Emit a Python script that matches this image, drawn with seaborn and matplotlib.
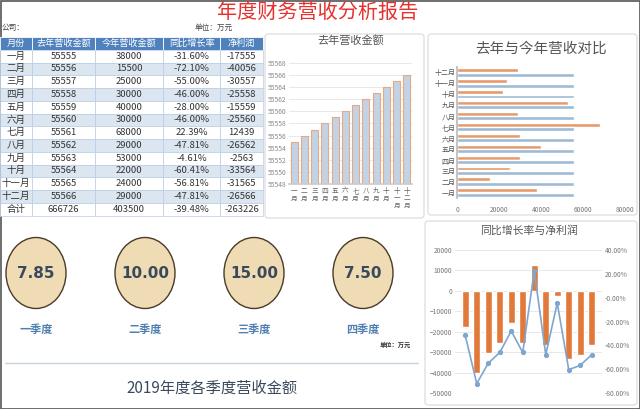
import numpy as np
import pandas as pd
import matplotlib
matplotlib.use("Agg")
import matplotlib.pyplot as plt
from matplotlib.patches import Ellipse, Rectangle, FancyBboxPatch
from matplotlib.ticker import FuncFormatter
import seaborn as sns

sns.set_theme(style="white")
plt.rcParams['font.family'] = ['Noto Sans CJK SC', 'DejaVu Sans']

# 数据
months = ['一月', '二月', '三月', '四月', '五月', '六月',
          '七月', '八月', '九月', '十月', '十一月', '十二月']
last_year = [55555, 55556, 55557, 55558, 55559, 55560,
             55561, 55562, 55563, 55564, 55565, 55566]
this_year = [38000, 15500, 25000, 30000, 40000, 30000,
             68000, 29000, 53000, 22000, 24000, 29000]
growth_txt = ['-31.60%', '-72.10%', '-55.00%', '-46.00%', '-28.00%', '-46.00%',
              '22.39%', '-47.81%', '-4.61%', '-60.41%', '-56.81%', '-47.81%']
profit = [-17555, -40056, -30557, -25558, -15559, -25560,
          12439, -26562, -2563, -33564, -31565, -26566]
total_row = ['合计', '666726', '403500', '-39.48%', '-263226']
quarters = ['一季度', '二季度', '三季度', '四季度']
quarter_values = [7.85, 10.00, 15.00, 7.50]

growth = [float(g.rstrip('%')) / 100 for g in growth_txt]

W, H = 640, 409
fig = plt.figure(figsize=(W / 100, H / 100), dpi=100)
fig.patch.set_facecolor('white')


def px_axes(x0, y0, x1, y1):
    return fig.add_axes([x0 / W, 1 - y1 / H, (x1 - x0) / W, (y1 - y0) / H])


# 背景画布（像素坐标）
bg = fig.add_axes([0, 0, 1, 1])
bg.set_xlim(0, W)
bg.set_ylim(H, 0)
bg.axis('off')
bg.add_patch(Rectangle((0.5, 0.5), W - 1, H - 1, fill=False, ec='#555555', lw=1.2))

bg.text(318, 12, '年度财务营收分析报告', color='#e8302c', fontsize=14.5,
        ha='center', va='center')
bg.text(2, 28, '公司：', fontsize=5.5, color='#444444', va='center')
bg.text(195, 28, '单位：万元', fontsize=5.5, color='#444444', va='center')

# 表格
col_x = [0, 32, 95, 163, 220, 263]
headers = ['月份', '去年营收金额', '今年营收金额', '同比增长率', '净利润']
row_h = 12.75
top = 37
for c in range(5):
    bg.add_patch(Rectangle((col_x[c], top), col_x[c + 1] - col_x[c], row_h,
                           fc='#4f81bd', ec='white', lw=0.6))
    bg.text((col_x[c] + col_x[c + 1]) / 2, top + row_h / 2, headers[c],
            color='white', fontsize=6.6, ha='center', va='center')
rows = [[months[i], str(last_year[i]), str(this_year[i]), growth_txt[i], str(profit[i])]
        for i in range(12)] + [total_row]
for r, row in enumerate(rows):
    y = top + row_h * (r + 1)
    fc = '#dce6f1' if r % 2 == 1 else 'white'
    for c in range(5):
        bg.add_patch(Rectangle((col_x[c], y), col_x[c + 1] - col_x[c], row_h,
                               fc=fc, ec='#b8cce4', lw=0.5))
        bg.text((col_x[c] + col_x[c + 1]) / 2, y + row_h / 2, row[c],
                color='#333333', fontsize=6.8, ha='center', va='center')

# 面板边框
for (x0, y0, x1, y1) in [(265, 34, 424, 218), (428, 34, 637, 215), (425, 221, 637, 405)]:
    bg.add_patch(FancyBboxPatch((x0, y0), x1 - x0, y1 - y0,
                                boxstyle='round,pad=0,rounding_size=3',
                                fill=False, ec='#d9d9d9', lw=0.8))

# 季度圆圈
q_x = [36, 145, 254, 363]
for x, q, v in zip(q_x, quarters, quarter_values):
    bg.add_patch(Ellipse((x, 273), 60, 71, fc='#efdcb4', ec='#4a3a28', lw=1.0))
    bg.text(x, 274, f'{v:.2f}', fontsize=11, fontweight='bold', color='#3a4a5c',
            ha='center', va='center', family='DejaVu Sans')
    bg.text(x, 330, q, fontsize=8, color='#4f7fb0', ha='center', va='center',
            fontweight='bold')
bg.text(395, 345, '单位：万元', fontsize=4.5, color='#333333', ha='center',
        va='center', fontweight='bold')
bg.plot([5, 418], [363, 363], color='#c8d3e0', lw=1)
bg.text(212, 388, '2019年度各季度营收金额', fontsize=11, color='#3a4a5c',
        ha='center', va='center')

# 图1：去年营收金额
ax1 = px_axes(289, 63, 412, 184)
df1 = pd.DataFrame({'月份': months, '金额': last_year})
sns.barplot(data=df1, x='月份', y='金额', color='#c3d3e6', width=0.7,
            saturation=1, edgecolor='#e6a982', linewidth=0.8, ax=ax1)
ax1.set_ylim(55548, 55568)
ax1.set_yticks(range(55548, 55569, 2))
ax1.set_xticks(range(12))
ax1.set_xticklabels(['\n'.join(m) for m in months], fontsize=4.8, color='#666666',
                    linespacing=0.95)
ax1.tick_params(axis='y', labelsize=4.8, colors='#888888', length=0, pad=2)
ax1.tick_params(axis='x', length=0, pad=2)
ax1.yaxis.grid(True, color='#e4e4e4', lw=0.6)
ax1.set_axisbelow(True)
ax1.set_xlabel('')
ax1.set_ylabel('')
for s in ax1.spines.values():
    s.set_visible(False)
ax1.spines['bottom'].set_visible(True)
ax1.spines['bottom'].set_color('#cccccc')
ax1.set_title('去年营收金额', fontsize=8, color='#555555', pad=14)

# 图2：去年与今年营收对比
ax2 = px_axes(457, 67, 625, 198)
df2 = pd.DataFrame({'月份': months * 2,
                    '金额': this_year + last_year,
                    '年份': ['今年'] * 12 + ['去年'] * 12})
sns.barplot(data=df2, y='月份', x='金额', hue='年份', orient='h',
            order=months[::-1], hue_order=['今年', '去年'],
            palette=['#e59a6a', '#9dbad6'], saturation=1, width=0.82, gap=0.12,
            ax=ax2)
ax2.legend_.remove()
ax2.set_xlim(0, 80000)
ax2.set_xticks(range(0, 80001, 20000))
ax2.tick_params(axis='x', labelsize=4.8, colors='#777777', length=0, pad=6)
ax2.tick_params(axis='y', labelsize=5, colors='#555555', length=0, pad=1)
ax2.set_xlabel('')
ax2.set_ylabel('')
for s in ax2.spines.values():
    s.set_visible(False)
ax2.spines['left'].set_visible(True)
ax2.spines['left'].set_color('#bbbbbb')
ax2.set_title('去年与今年营收对比', fontsize=10.5, color='#555555', pad=10)

# 图3：同比增长率与净利润
ax3 = px_axes(455, 250, 602, 393)
df3 = pd.DataFrame({'月份': months, '净利润': profit})
sns.barplot(data=df3, x='月份', y='净利润', color='#e0793a', width=0.62,
            saturation=1, ax=ax3)
ax3.set_ylim(-50000, 20000)
ax3.set_yticks(range(-50000, 20001, 10000))
ax3.yaxis.grid(True, color='#e4e4e4', lw=0.6)
ax3.set_axisbelow(True)
ax3.set_xticks([])
ax3.tick_params(axis='y', labelsize=4.8, colors='#777777', length=0, pad=2)
ax3.set_xlabel('')
ax3.set_ylabel('')
for s in ax3.spines.values():
    s.set_visible(False)
ax3.set_title('同比增长率与净利润', fontsize=7.8, color='#555555', pad=12)

ax3b = ax3.twinx()
sns.lineplot(x=np.arange(12), y=growth, color='#7ea6cf', lw=1.2, marker='o',
             markersize=3, markeredgecolor='#7ea6cf', ax=ax3b)
ax3b.set_ylim(-0.8, 0.4)
ax3b.set_yticks(np.arange(-0.8, 0.41, 0.2))
ax3b.yaxis.set_major_formatter(FuncFormatter(lambda v, p: f'{v * 100:.2f}%'))
ax3b.tick_params(axis='y', labelsize=4.8, colors='#777777', length=0, pad=2)
ax3b.set_ylabel('')
for s in ax3b.spines.values():
    s.set_visible(False)

fig.savefig('out.png', dpi=100)
